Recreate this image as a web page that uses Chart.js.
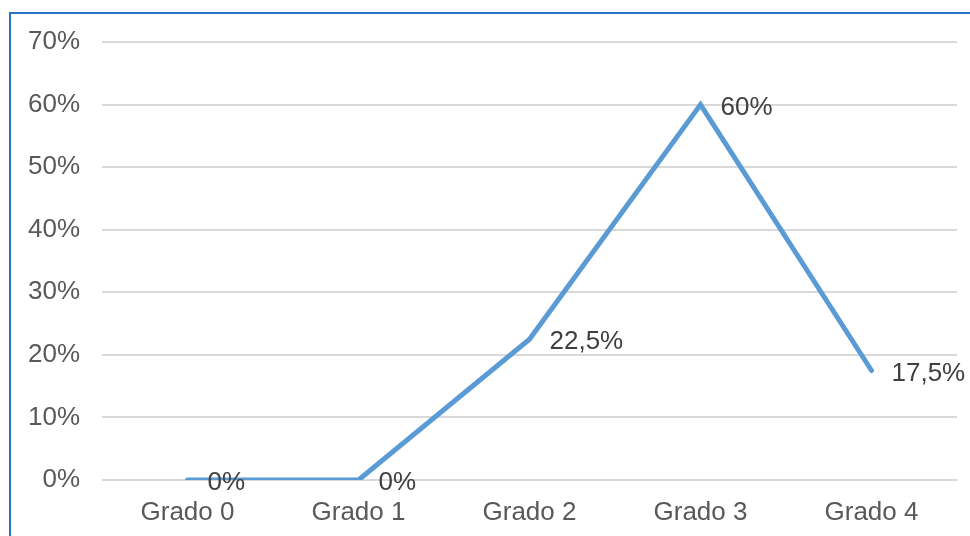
<!DOCTYPE html>
<html lang="es">
<head>
  <meta charset="UTF-8">
  <title>Grados</title>
  <style>
    body {
      margin: 0;
      padding: 0;
      background-color: #fff;
      font-family: "Liberation Sans", Arial, sans-serif;
    }
    .frame {
      position: absolute;
      left: 9px;
      top: 12px;
      width: 961px;
      height: 524px;
      border-left: 2px solid #2672c8;
      border-top: 2px solid #2672c8;
    }
    .frame canvas {
      display: block;
    }
  </style>
</head>
<body>
  <div class="frame">
    <canvas id="myChart" width="959" height="522"></canvas>
  </div>
  <script src="https://cdn.jsdelivr.net/npm/chart.js"></script>
  <script>
    var categories = ['Grado 0', 'Grado 1', 'Grado 2', 'Grado 3', 'Grado 4'];
    var values = [0, 0, 22.5, 60, 17.5];
    var yTicks = [0, 10, 20, 30, 40, 50, 60, 70];

    function pct(v) {
      return String(v).replace('.', ',') + '%';
    }

    // etiquetas de datos a la derecha de cada punto
    var valueLabels = {
      id: 'valueLabels',
      afterDatasetsDraw: function(chart) {
        var ctx = chart.ctx;
        var meta = chart.getDatasetMeta(0);
        ctx.save();
        ctx.font = '26px "Liberation Sans", Arial, sans-serif';
        ctx.fillStyle = '#404040';
        ctx.textAlign = 'left';
        ctx.textBaseline = 'middle';
        meta.data.forEach(function(pt, i) {
          ctx.fillText(pct(values[i]), pt.x + 20, pt.y + 3);
        });
        ctx.restore();
      }
    };

    var ctx = document.getElementById('myChart').getContext('2d');
    var myChart = new Chart(ctx, {
      type: 'line',
      data: {
        labels: categories,
        datasets: [{
          data: values,
          borderColor: '#5b9bd5',
          borderWidth: 5,
          borderCapStyle: 'round',
          borderJoinStyle: 'miter',
          tension: 0,
          pointRadius: 0,
          pointHoverRadius: 0,
          fill: false
        }]
      },
      options: {
        responsive: false,
        animation: false,
        layout: {
          padding: { top: 28, right: 13, bottom: 0, left: 0 }
        },
        plugins: {
          legend: { display: false },
          tooltip: { enabled: false }
        },
        scales: {
          x: {
            offset: true,
            grid: { display: false },
            border: { display: false },
            ticks: {
              color: '#595959',
              padding: 9,
              font: { size: 26, family: '"Liberation Sans", Arial, sans-serif' },
              maxRotation: 0
            },
            afterFit: function(scale) { scale.height = 56; }
          },
          y: {
            min: 0,
            max: 70,
            afterBuildTicks: function(scale) {
              scale.ticks = yTicks.map(function(v) { return { value: v }; });
            },
            grid: { color: '#d9d9d9', lineWidth: 2, drawTicks: false },
            border: { display: false },
            ticks: {
              color: '#595959',
              padding: 22,
              font: { size: 26, family: '"Liberation Sans", Arial, sans-serif' },
              callback: function(v) { return v + '%'; }
            },
            afterFit: function(scale) {
              scale.width = 91;
              scale.paddingTop = 0;
              scale.paddingBottom = 0;
            }
          }
        }
      },
      plugins: [valueLabels]
    });
  </script>
</body>
</html>
